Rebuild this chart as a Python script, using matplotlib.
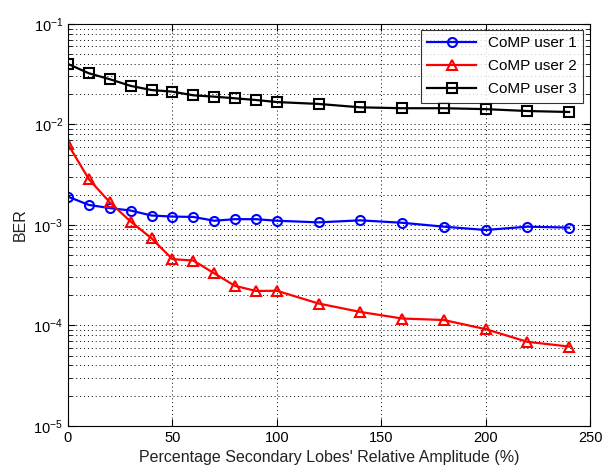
import matplotlib
matplotlib.use('Agg')
import matplotlib.pyplot as plt

# percentage of secondary lobes' relative amplitude
amplitude = [0, 10, 20, 30, 40, 50, 60, 70, 80, 90, 100, 120, 140, 160, 180, 200, 220, 240]

ber_user1 = [0.00191, 0.00158, 0.00147, 0.00139, 0.00124, 0.00121, 0.00120, 0.00110, 0.00114,
             0.00114, 0.00110, 0.00106, 0.00111, 0.00105, 0.00096, 0.00089, 0.00096, 0.00094]
ber_user2 = [0.00635, 0.00285, 0.00168, 0.00108, 0.000736, 0.000456, 0.000442, 0.000330, 0.000247,
             0.000220, 0.000221, 0.000165, 0.000136, 0.000117, 0.000113, 0.0000917, 0.0000686, 0.0000615]
ber_user3 = [0.0400, 0.0323, 0.0282, 0.0242, 0.0220, 0.0212, 0.0195, 0.0189, 0.0182,
             0.0175, 0.0167, 0.0160, 0.0148, 0.0145, 0.0145, 0.0142, 0.0136, 0.0133]

plt.rcParams['font.family'] = ['Liberation Sans', 'DejaVu Sans']
plt.rcParams['font.size'] = 10.5

fig = plt.figure(figsize=(6.07, 4.70), dpi=100)
ax = fig.add_axes([0.112, 0.094, 0.860, 0.855])

ax.plot(amplitude, ber_user1, color='blue', marker='o', mfc='none', mec='blue',
        ms=6.5, mew=1.5, lw=1.6, label='CoMP user 1')
ax.plot(amplitude, ber_user2, color='red', marker='^', mfc='none', mec='red',
        ms=7.5, mew=1.5, lw=1.6, label='CoMP user 2')
ax.plot(amplitude, ber_user3, color='black', marker='s', mfc='none', mec='black',
        ms=7, mew=1.5, lw=1.6, label='CoMP user 3')

ax.set_yscale('log')
ax.set_xlim(0, 250)
ax.set_ylim(1e-5, 1e-1)
ax.set_xticks([0, 50, 100, 150, 200, 250])

ax.grid(True, which='major', axis='both', color='black', linestyle=(0, (1, 3)), linewidth=0.7)
ax.grid(True, which='minor', axis='y', color='black', linestyle=(0, (1, 3)), linewidth=0.7)
ax.tick_params(which='both', direction='in', top=True, right=True)
ax.tick_params(which='major', length=5)
ax.tick_params(which='minor', length=3)

ax.set_xlabel("Percentage Secondary Lobes' Relative Amplitude (%)", fontsize=11.5, color='#222222')
ax.set_ylabel('BER', fontsize=11.5, color='#222222')

leg = ax.legend(loc='upper right', fancybox=False, edgecolor='black', fontsize=11,
                handlelength=3.2, borderpad=0.4, labelspacing=0.6,
                bbox_to_anchor=(0.987, 0.985), borderaxespad=0)
leg.get_frame().set_linewidth(0.8)

fig.savefig('out.png', dpi=100)
